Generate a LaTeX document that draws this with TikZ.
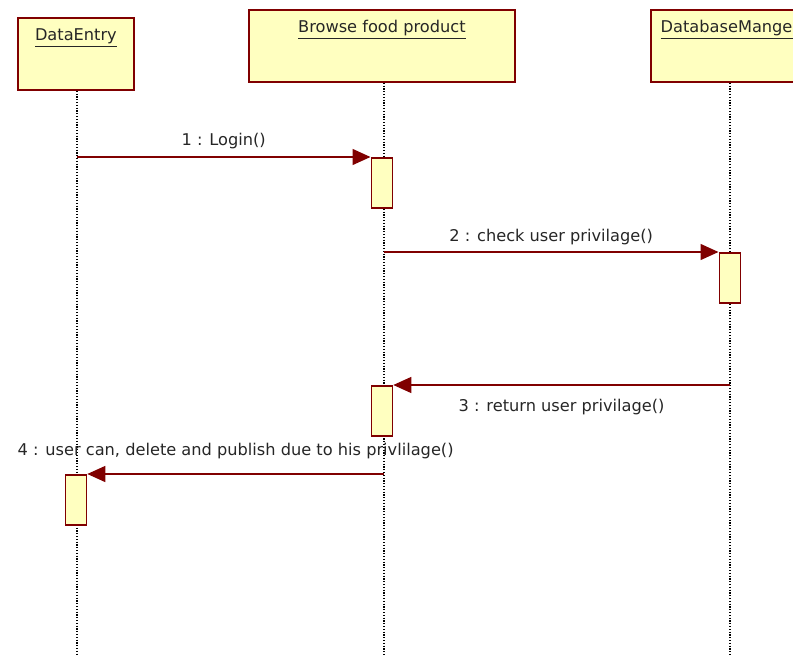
\documentclass[tikz,border=0pt]{standalone}
\usepackage{fontspec}
\setmainfont{DejaVu Sans}
\usetikzlibrary{arrows.meta}
\definecolor{seqRed}{RGB}{128,0,0}
\definecolor{seqYellow}{RGB}{255,255,192}

\begin{document}
\begin{tikzpicture}[x=1pt, y=-1pt, >={Triangle[length=18pt, width=16pt]},
    objbox/.style={draw=seqRed, fill=seqYellow, line width=1.8pt, inner sep=0pt, anchor=north west},
    actbox/.style={draw=seqRed, fill=seqYellow, line width=1.8pt, inner sep=0pt, anchor=north,
        minimum width=21pt, minimum height=50pt},
    lifeline/.style={dash pattern=on 1.2pt off 1.6pt, line width=1.3pt},
    msg/.style={seqRed, line width=1.4pt, ->},
    msglabel/.style={font=\fontsize{16.2}{19}\selectfont, inner sep=0pt, anchor=base, text=black!85},
    objname/.style={font=\fontsize{16.2}{19}\selectfont, anchor=base, inner sep=0pt, text=black!85}]
    \useasboundingbox (0,0) rectangle (793,655);
    \begin{scope}
        \clip (0,0) rectangle (793,655);

        % 1. Ba đối tượng ở trên cùng
        \node[objbox, minimum width=116pt, minimum height=72pt] (entry) at (17,17) {};
        \node[objbox, minimum width=266pt, minimum height=72pt] (browse) at (248,9) {};
        \node[objbox, minimum width=158pt, minimum height=72pt] (dbman) at (650,9) {};
        \node[objname] (entryName) at ([yshift=-24pt]entry.north) {\underline{DataEntry}};
        \node[objname] (browseName) at ([yshift=-24pt]browse.north) {\underline{Browse food product}};
        \node[objname] (dbmanName) at ([yshift=-24pt]dbman.north) {\underline{DatabaseManger}};

        % 2. Đường đời (nét chấm)
        \coordinate (entryTop) at ([xshift=1pt]entry.south);
        \coordinate (browseTop) at ([xshift=2pt]browse.south);
        \coordinate (dbmanTop) at (dbman.south);
        \coordinate (entryEnd) at (entryTop |- 0,655);
        \coordinate (browseEnd) at (browseTop |- 0,655);
        \coordinate (dbmanEnd) at (dbmanTop |- 0,655);
        \draw[lifeline] (entryTop) -- (entryEnd);
        \draw[lifeline] (browseTop) -- (browseEnd);
        \draw[lifeline] (dbmanTop) -- (dbmanEnd);

        % 3. Các hộp kích hoạt
        \node[actbox] (act1) at (browse.south |- 0,157) {};
        \node[actbox] (act2) at (dbman.south |- 0,252) {};
        \node[actbox] (act3) at (browse.south |- 0,385) {};
        \node[actbox] (act4) at (entry.south |- 0,474) {};

        % 4. Các thông điệp
        \coordinate (m1) at (entryTop |- act1.north);
        \coordinate (m2) at (browseTop |- act2.north);
        \coordinate (m3) at (dbmanTop |- act3.north);
        \coordinate (m4) at (browseTop |- act4.north);
        \draw[msg] (m1) -- node[msglabel, yshift=11pt] {1 : Login()} (act1.north west);
        \draw[msg] (m2) -- node[msglabel, yshift=10pt] {2 : check user privilage()} (act2.north west);
        \draw[msg] (m3) -- node[msglabel, yshift=-26pt] {3 : return user privilage()} (act3.north east);
        \draw[msg] (m4) -- node[msglabel, yshift=19pt] {4 : user can, delete and publish due to his privlilage()} (act4.north east);
    \end{scope}
\end{tikzpicture}
\end{document}
